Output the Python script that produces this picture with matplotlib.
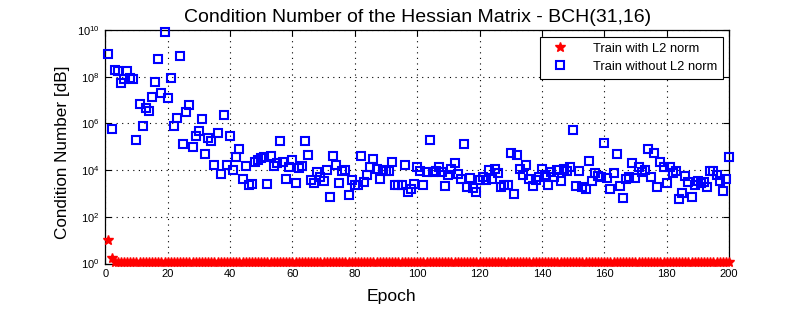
import matplotlib
matplotlib.use("Agg")
import matplotlib.pyplot as plt
import numpy as np
from matplotlib.ticker import LogLocator, LogFormatterMathtext, NullLocator

plt.rcParams['font.family'] = ['Liberation Sans', 'DejaVu Sans']
plt.rcParams['mathtext.default'] = 'regular'

# ---- data ----
epochs = list(range(1, 201))

# log10 of condition number, training without L2 norm
log_without_l2 = [
    8.99, 5.74, 8.29, 8.26, 7.75, 7.89, 8.26, 7.93, 7.91, 5.31,
    6.84, 5.87, 6.65, 6.51, 7.15, 7.79, 8.77, 7.29, 9.93, 7.07,
    7.96, 5.87, 6.25, 8.90, 5.10, 6.50, 6.77, 5.01, 5.44, 5.68,
    6.20, 4.67, 5.36, 5.24, 4.20, 5.57, 3.83, 6.34, 4.20, 5.48,
    3.99, 4.56, 4.90, 3.62, 4.16, 3.38, 3.39, 4.33, 4.42, 4.50,
    4.55, 3.41, 4.60, 4.18, 4.30, 5.26, 4.35, 3.63, 4.15, 4.43,
    3.46, 4.08, 4.18, 5.26, 4.66, 3.58, 3.43, 3.93, 3.70, 3.55,
    4.00, 2.83, 4.60, 4.22, 3.43, 3.97, 4.00, 2.95, 3.58, 3.35,
    3.35, 4.60, 3.49, 3.80, 4.15, 4.49, 4.06, 3.60, 4.00, 3.95,
    3.95, 4.35, 3.37, 3.37, 3.37, 4.23, 3.06, 3.18, 3.40, 4.12,
    3.97, 3.37, 3.92, 5.29, 3.92, 3.95, 4.12, 3.90, 3.33, 3.79,
    4.06, 4.29, 3.83, 3.60, 5.12, 3.26, 3.66, 3.23, 3.06, 3.58,
    3.69, 3.58, 4.00, 3.63, 4.06, 3.89, 3.29, 3.37, 3.35, 4.75,
    2.98, 4.66, 4.03, 3.78, 4.23, 3.63, 3.32, 3.58, 3.72, 4.06,
    3.80, 3.35, 3.92, 3.72, 4.00, 3.52, 4.03, 3.97, 4.15, 5.72,
    3.32, 3.95, 3.26, 3.20, 4.40, 3.52, 3.89, 3.75, 3.72, 5.17,
    3.66, 3.20, 3.89, 4.69, 3.32, 2.81, 3.60, 3.69, 4.32, 3.66,
    4.15, 3.92, 4.00, 4.92, 3.69, 4.72, 3.29, 4.35, 4.12, 3.46,
    4.15, 3.89, 3.97, 2.78, 3.03, 3.75, 3.49, 2.83, 3.35, 3.52,
    3.46, 3.49, 3.29, 3.95, 3.95, 3.78, 3.52, 3.12, 3.60, 4.55,
]

# condition number, training with L2 norm
with_l2 = [
    10.0, 1.8, 1.15, 1.15, 1.15, 1.15, 1.15, 1.15, 1.15, 1.15,
    1.15, 1.15, 1.15, 1.15, 1.15, 1.15, 1.15, 1.15, 1.15, 1.15,
    1.15, 1.15, 1.15, 1.15, 1.15, 1.15, 1.15, 1.15, 1.15, 1.15,
    1.15, 1.15, 1.15, 1.15, 1.15, 1.15, 1.15, 1.15, 1.15, 1.15,
    1.15, 1.15, 1.15, 1.15, 1.15, 1.15, 1.15, 1.15, 1.15, 1.15,
    1.15, 1.15, 1.15, 1.15, 1.15, 1.15, 1.15, 1.15, 1.15, 1.15,
    1.15, 1.15, 1.15, 1.15, 1.15, 1.15, 1.15, 1.15, 1.15, 1.15,
    1.15, 1.15, 1.15, 1.15, 1.15, 1.15, 1.15, 1.15, 1.15, 1.15,
    1.15, 1.15, 1.15, 1.15, 1.15, 1.15, 1.15, 1.15, 1.15, 1.15,
    1.15, 1.15, 1.15, 1.15, 1.15, 1.15, 1.15, 1.15, 1.15, 1.15,
    1.15, 1.15, 1.15, 1.15, 1.15, 1.15, 1.15, 1.15, 1.15, 1.15,
    1.15, 1.15, 1.15, 1.15, 1.15, 1.15, 1.15, 1.15, 1.15, 1.15,
    1.15, 1.15, 1.15, 1.15, 1.15, 1.15, 1.15, 1.15, 1.15, 1.15,
    1.15, 1.15, 1.15, 1.15, 1.15, 1.15, 1.15, 1.15, 1.15, 1.15,
    1.15, 1.15, 1.15, 1.15, 1.15, 1.15, 1.15, 1.15, 1.15, 1.15,
    1.15, 1.15, 1.15, 1.15, 1.15, 1.15, 1.15, 1.15, 1.15, 1.15,
    1.15, 1.15, 1.15, 1.15, 1.15, 1.15, 1.15, 1.15, 1.15, 1.15,
    1.15, 1.15, 1.15, 1.15, 1.15, 1.15, 1.15, 1.15, 1.15, 1.15,
    1.15, 1.15, 1.15, 1.15, 1.15, 1.15, 1.15, 1.15, 1.15, 1.15,
    1.15, 1.15, 1.15, 1.15, 1.15, 1.15, 1.15, 1.15, 1.15, 1.15,
]

x_ticks = [0, 20, 40, 60, 80, 100, 120, 140, 160, 180, 200]
y_ticks = [1e0, 1e2, 1e4, 1e6, 1e8, 1e10]

title = "Condition Number of the Hessian Matrix - BCH(31,16)"
xlabel = "Epoch"
ylabel = "Condition Number [dB]"
label_with = "Train with L2 norm"
label_without = "Train without L2 norm"

# ---- figure ----
fig = plt.figure(figsize=(8.05, 3.09), dpi=100)
ax = fig.add_axes([105.3 / 805, 1 - 263.5 / 309, (729 - 105.3) / 805, (263.5 - 30) / 309])

without_vals = [10 ** v for v in log_without_l2]

ax.plot(epochs, with_l2, linestyle='none', marker='*', color=(1, 0, 0),
        markersize=7, markeredgewidth=1.0, label=label_with, clip_on=False, zorder=3)
ax.plot(epochs, without_vals, linestyle='none', marker='s', markerfacecolor='none',
        markeredgecolor=(0, 0, 1), markersize=5.8, markeredgewidth=1.5,
        label=label_without, clip_on=False, zorder=4)

ax.set_yscale('log')
ax.set_xlim(0, 200)
ax.set_ylim(1e0, 1e10)
ax.set_xticks(x_ticks)
ax.set_yticks(y_ticks)
ax.yaxis.set_major_formatter(LogFormatterMathtext())
ax.yaxis.set_minor_locator(NullLocator())

ax.grid(True, which='major', linestyle=(0, (1, 4)), color='black', linewidth=0.8)
ax.tick_params(axis='both', which='major', direction='in', length=4, width=0.8,
               labelsize=8, top=True, right=True, pad=4)
for s in ax.spines.values():
    s.set_linewidth(0.9)
    s.set_color('black')

ax.set_title(title, fontsize=14, pad=6)
ax.set_xlabel(xlabel, fontsize=12.6)
ax.set_ylabel(ylabel, fontsize=12.3)
ax.xaxis.set_label_coords((391 - 105.3) / 623.7, -(297 - 263.5) / 233.5)
ax.yaxis.set_label_coords(-(105.3 - 62) / 623.7, (263.5 - 152) / 233.5)
ax.xaxis.label.set_va('center')
ax.yaxis.label.set_va('center')

leg = ax.legend(loc='upper right', bbox_to_anchor=(0.99, 0.97), borderaxespad=0,
                fontsize=9.3, fancybox=False, framealpha=1, edgecolor='black',
                handletextpad=1.4, handlelength=2.2, borderpad=0.45, labelspacing=0.45)
leg.get_frame().set_linewidth(0.8)

fig.savefig("out.png", dpi=100)
